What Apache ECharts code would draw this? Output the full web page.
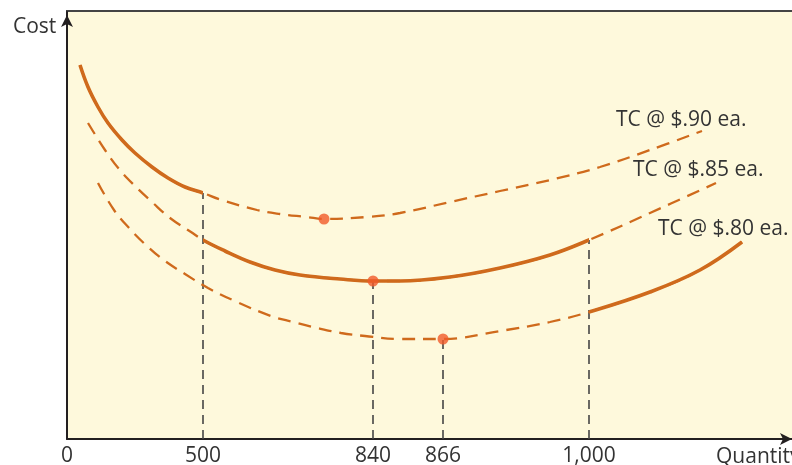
<!DOCTYPE html>
<html>
<head>
<meta charset="utf-8">
<script src="https://cdn.jsdelivr.net/npm/echarts@6/dist/echarts.min.js"></script>
<style>
html,body{margin:0;padding:0;background:#fff;}
#chart{width:792px;height:465px;}
</style>
</head>
<body>
<div id="chart"></div>
<script>
// x positions are schematic positions along the quantity axis (not to scale)
const tickLabels = ['0', '500', '840', '866', '1,000'];
const tickPos = [0, 136, 306, 376, 522];
const axisNames = ['Cost', 'Quantity'];
const curveNames = ['TC @ $.90 ea.', 'TC @ $.85 ea.', 'TC @ $.80 ea.'];

// [position, cost]
const tc90 = [[13,374],[21,352],[31,332],[41,316],[55,299],[68,286],[85,272],[101,261],[118,252],[136,246],[153,239.5],[190,229],[213,225],[240,222],[257,220],[300,222],[333,226],[383,237],[433,248],[483,259],[533,272],[583,289],[635,308]];
const tc85 = [[21,316],[38,289],[52,270],[68,253],[85,237],[103,221],[124,207],[136,199],[158,188],[183,177],[208,169],[233,164],[273,160],[306,158],[333,158],[383,162],[433,171],[483,184],[522,199],[583,226],[649,256]];
const tc80 = [[31,256],[47,229],[63,210],[80,193],[98,178],[118,165],[141,151],[170,137],[204,123],[226,117],[250,111],[274,106],[298,103],[333,100],[376,100],[433,108],[483,117],[522,127],[583,147],[633,169],[675,197]];

// solid (relevant) range of each curve
const solidRanges = [[0, 136], [136, 522], [522, 10000]];
// minimum points
const minima = [[257,220],[306,158],[376,100]];
// tops of the vertical dashed guides
const dropTops = [[136,246],[306,158],[376,100],[522,199]];

const curves = [tc90, tc85, tc80];
const curveColor = '#CF6A1C';
const series = [];
const visualMaps = [];

dropTops.forEach(function (p) {
  series.push({
    type: 'line', data: [[p[0], 0], [p[0], p[1]]], symbol: 'none', z: 1,
    lineStyle: { color: '#444', width: 1.6, type: [9, 6] }, silent: true
  });
});

curves.forEach(function (pts, i) {
  series.push({
    type: 'line', data: pts, symbol: 'none', smooth: 0.4, z: 2,
    lineStyle: { color: curveColor, width: 2.3, type: [13, 8] }, silent: true
  });
  visualMaps.push({
    type: 'piecewise', show: false, dimension: 0, seriesIndex: series.length,
    pieces: [{ gte: solidRanges[i][0], lte: solidRanges[i][1], color: curveColor }],
    outOfRange: { color: 'rgba(0,0,0,0)' }
  });
  series.push({
    type: 'line', data: pts, symbol: 'none', smooth: 0.4, z: 3,
    lineStyle: { width: 3.6 }, silent: true
  });
});

series.push({
  type: 'scatter', data: minima, symbolSize: 11, z: 5,
  itemStyle: { color: '#F15A29' }, silent: true
});

const labelPos = [[616, 120], [633, 170], [658, 229]];
const font = '"Open Sans", sans-serif';
const graphics = [
  { type: 'line', shape: { x1: 66, y1: 11, x2: 792, y2: 11 }, style: { stroke: '#444', lineWidth: 2 } },
  { type: 'text', x: 13, y: 27, style: { text: axisNames[0], fill: '#333', font: '21px ' + font, verticalAlign: 'middle' } },
  { type: 'text', x: 716, y: 457, style: { text: axisNames[1], fill: '#333', font: '21px ' + font, verticalAlign: 'middle' } }
];
curveNames.forEach(function (n, i) {
  graphics.push({ type: 'text', x: labelPos[i][0], y: labelPos[i][1],
    style: { text: n, fill: '#333', font: '21px ' + font, verticalAlign: 'middle' } });
});

const chart = echarts.init(document.getElementById('chart'), null, { renderer: 'canvas' });
chart.setOption({
  animation: false,
  backgroundColor: '#ffffff',
  grid: { left: 67, top: 12, right: 0, bottom: 26, show: true, backgroundColor: '#FEF9DC', borderWidth: 0, outerBoundsMode: 'none' },
  xAxis: {
    type: 'value', min: 0, max: 725,
    splitLine: { show: false }, axisTick: { show: false },
    axisLine: { lineStyle: { color: '#231F20', width: 2 }, symbol: ['none', 'arrow'], symbolSize: [9, 12], symbolOffset: [0, 0] },
    axisLabel: {
      customValues: tickPos, color: '#333', fontSize: 21, fontFamily: font, margin: 7, hideOverlap: false,
      formatter: function (v) { const k = tickPos.indexOf(v); return k >= 0 ? tickLabels[k] : ''; }
    }
  },
  yAxis: {
    type: 'value', min: 0, max: 427,
    splitLine: { show: false }, axisTick: { show: false }, axisLabel: { show: false },
    axisLine: { lineStyle: { color: '#231F20', width: 2 }, symbol: ['none', 'arrow'], symbolSize: [9, 12], symbolOffset: [0, -3] }
  },
  visualMap: visualMaps,
  graphic: graphics,
  series: series
});
</script>
</body>
</html>
